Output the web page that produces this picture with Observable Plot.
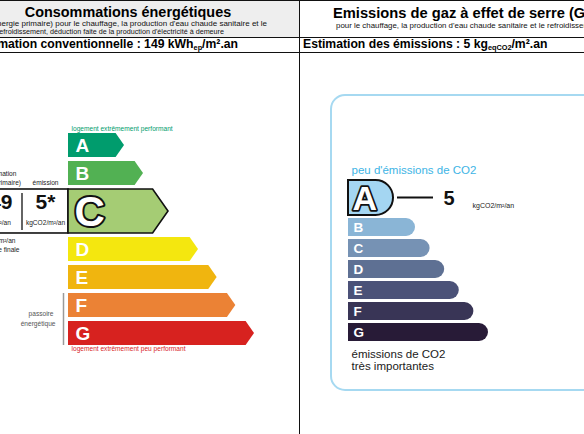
<!DOCTYPE html>
<html lang="fr"><head><meta charset="utf-8">
<script src="https://cdn.jsdelivr.net/npm/d3@7"></script>
<script src="https://cdn.jsdelivr.net/npm/@observablehq/plot@0.6"></script>
<style>
html,body{margin:0;padding:0;background:#fff;}
#page{position:relative;width:584px;height:434px;overflow:hidden;background:#fff;font-family:"Liberation Sans",Arial,Helvetica,sans-serif;}
#page .abs{position:absolute;white-space:nowrap;}
#page svg{position:absolute;top:0;}
sub{font-size:0.6em;line-height:0;vertical-align:-0.3em;}
</style></head><body><div id="page"></div><script>
// ---------- data ----------
const energyClasses = ["A","B","C","D","E","F","G"];
const energyValue = 149;          // kWh_ep/m².an
const energyEmission = 5;         // kgCO2/m²/an
const energyClass = "C";
const passoireClasses = ["F","G"];
const gesClasses = ["A","B","C","D","E","F","G"];
const gesValue = 5;               // kg_eqCO2/m².an
const gesClass = "A";

// ---------- styles ----------
const energyPalette = ["#009c6d","#52b153","#a5cc74","#f4e70f","#f0b50f","#eb8235","#d7221f"];
const gesPalette = ["#a4d6f2","#8ab5d6","#7692b4","#5e7093","#4b5278","#393556","#281b37"];
const FONT = "Liberation Sans, Arial, sans-serif";
// rank -> arrow length (graphic layout of the label, current class enlarged)
const energyLength = d3.scaleLinear().domain([0, 1, 2, 3, 4, 7]).range([0, 56, 75, 100, 130, 186]);
const gesLength = d3.scaleLinear().domain([0, 1, 2, 7]).range([0, 45, 67, 140]);

const page = document.getElementById("page");

// row layout in "row units" (current class is enlarged)
function rows(classes, current, ext, gap) {
  const ci = classes.indexOf(current);
  return classes.map((cls, i) => {
    const top = i + (i > ci ? ext : 0);
    return {cls, rank: i + 1, current: i === ci, top, bottom: top + (i === ci ? 1 + ext - gap : 1 - gap)};
  });
}
const mid = d => (d.top + d.bottom) / 2;

function div(css) {
  const d = document.createElement("div");
  d.className = "abs";
  d.style.cssText += css;
  page.appendChild(d);
  return d;
}
function label(html, x, baseline, size, opts = {}) {
  const {weight = "normal", anchor = "start", color = "#000"} = opts;
  const d = div(`font-size:${size}px;line-height:${size}px;font-weight:${weight};color:${color};top:${baseline - 0.8465 * size}px;`);
  d.innerHTML = html;
  if (anchor === "start") d.style.left = x + "px";
  else if (anchor === "end") d.style.right = (584 - x) + "px";
  else { d.style.left = x + "px"; d.style.transform = "translateX(-50%)"; }
  return d;
}

// header backgrounds
div("left:0;top:0;width:299px;height:37px;background:#eeeeee;");
div("left:300px;top:0;width:284px;height:37px;background:#ffffff;");

// ---------- energy chart ----------
const eRows = rows(energyClasses, energyClass, 0.714, 0.143);
const eCur = eRows.find(d => d.current);
const ePass = eRows.filter(d => passoireClasses.includes(d.cls));
const eLast = eRows[eRows.length - 1];

function arrowRender(index, scales, values) {
  const g = d3.create("svg:g");
  for (const i of index) {
    const d = eRows[i];
    const x1 = values.x1[i], x2 = values.x2[i];
    const y1 = Math.min(values.y1[i], values.y2[i]), y2 = Math.max(values.y1[i], values.y2[i]);
    const h = y2 - y1, t = h * 0.35;
    if (d.current) {
      g.append("rect").attr("x", x1 - 102).attr("y", y1).attr("width", 102).attr("height", h)
        .attr("fill", "white").attr("stroke", "#111").attr("stroke-width", 1.6);
      g.append("line").attr("x1", x1 - 46).attr("x2", x1 - 46).attr("y1", y1 + 4).attr("y2", y2 - 3)
        .attr("stroke", "#111").attr("stroke-width", 1.3);
    }
    g.append("path")
      .attr("d", `M${x1},${y1}H${x2 - t}L${x2},${(y1 + y2) / 2}L${x2 - t},${y2}H${x1}Z`)
      .attr("fill", values.fill[i])
      .attr("stroke", d.current ? "#111" : "none")
      .attr("stroke-width", 1.6);
  }
  return g.node();
}

const small = {fontSize: 6.6, fill: "#222", lineAnchor: "bottom"};
const ePlot = Plot.plot({
  width: 299, height: 434, margin: 0,
  style: {background: "none", left: "0px", fontFamily: FONT, overflow: "hidden"},
  x: {transform: energyLength, domain: [0, 186], range: [68, 254], axis: null},
  y: {domain: [0, 1], range: [133, 161], axis: null},
  color: {domain: energyClasses, range: energyPalette},
  marks: [
    Plot.rect(eRows, {x1: () => 0, x2: "rank", y1: "top", y2: "bottom", fill: "cls", render: arrowRender}),
    Plot.text(eRows.filter(d => !d.current), {x: () => 0, y: mid, text: "cls", dx: 7, textAnchor: "start", fill: "white", fontWeight: "bold", fontSize: 19}),
    Plot.text([eCur], {x: () => 0, y: mid, text: "cls", dx: 6, dy: 1, textAnchor: "start", fill: "white", stroke: "#111", strokeWidth: 4, fontWeight: "bold", fontSize: 42}),
    Plot.text(["logement extrêmement performant"], {x: () => 0, y: () => eRows[0].top, text: d => d, dx: 3, dy: -3, textAnchor: "start", lineAnchor: "bottom", fill: "#009c6d", fontSize: 6.6}),
    Plot.text(["logement extrêmement peu performant"], {x: () => 0, y: () => eLast.bottom, text: d => d, dx: 3, dy: 6, textAnchor: "start", lineAnchor: "bottom", fill: "#d7221f", fontSize: 6.6}),
    // value box labels
    Plot.text(["consommation"], {x: () => 0, y: () => eCur.top, text: d => d, dx: -73.5, dy: -13.5, ...small}),
    Plot.text(["(énergie primaire)"], {x: () => 0, y: () => eCur.top, text: d => d, dx: -73.5, dy: -4.5, ...small}),
    Plot.text(["émission"], {x: () => 0, y: () => eCur.top, text: d => d, dx: -23, dy: -4.5, ...small}),
    Plot.text([energyValue], {x: () => 0, y: () => eCur.top, text: d => String(d), dx: -73.5, dy: 19.5, lineAnchor: "bottom", fontSize: 21, fontWeight: "bold", fill: "#111"}),
    Plot.text([energyEmission], {x: () => 0, y: () => eCur.top, text: d => d + "*", dx: -23, dy: 19.5, lineAnchor: "bottom", fontSize: 21, fontWeight: "bold", fill: "#111"}),
    Plot.text(["kWh/m²/an"], {x: () => 0, y: () => eCur.top, text: d => d, dx: -73.5, dy: 35.5, ...small}),
    Plot.text(["kgCO2/m²/an"], {x: () => 0, y: () => eCur.top, text: d => d, dx: -23, dy: 35.5, ...small}),
    Plot.text(["kWh/m²/an"], {x: () => 0, y: () => eCur.bottom, text: d => d, dx: -53, dy: 9.5, textAnchor: "end", ...small}),
    Plot.text(["d'énergie finale"], {x: () => 0, y: () => eCur.bottom, text: d => d, dx: -49, dy: 18.5, textAnchor: "end", ...small}),
    // passoire
    Plot.ruleX([{y1: ePass[0].top, y2: ePass[ePass.length - 1].bottom}], {x: () => 0, y1: "y1", y2: "y2", dx: -5, stroke: "#9a9a9a", strokeWidth: 1.5}),
    Plot.text(["passoire"], {x: () => 0, y: () => (ePass[0].top + ePass[ePass.length - 1].bottom) / 2, text: d => d, dx: -15, dy: -3.5, textAnchor: "end", lineAnchor: "bottom", fontSize: 6.6, fill: "#555"}),
    Plot.text(["énergétique"], {x: () => 0, y: () => (ePass[0].top + ePass[ePass.length - 1].bottom) / 2, text: d => d, dx: -13, dy: 6.5, textAnchor: "end", lineAnchor: "bottom", fontSize: 6.6, fill: "#555"})
  ]
});
page.appendChild(ePlot);

// ---------- GES chart ----------
div("left:330px;top:94px;width:300px;height:297px;box-sizing:border-box;border:2.5px solid #a6d9f1;border-radius:15px;");

const gRows = rows(gesClasses, gesClass, 0.81, 0.143);
const gCur = gRows.find(d => d.current);
const gLast = gRows[gRows.length - 1];

function pillRender(index, scales, values) {
  const g = d3.create("svg:g");
  for (const i of index) {
    const d = gRows[i];
    const x1 = values.x1[i], x2 = values.x2[i];
    const y1 = Math.min(values.y1[i], values.y2[i]), y2 = Math.max(values.y1[i], values.y2[i]);
    const r = (y2 - y1) / 2;
    g.append("path")
      .attr("d", `M${x1},${y1}H${x2 - r}A${r},${r} 0 0 1 ${x2 - r},${y2}H${x1}Z`)
      .attr("fill", values.fill[i])
      .attr("stroke", d.current ? "#111" : "none")
      .attr("stroke-width", 2);
    if (d.current) {
      g.append("line").attr("x1", x2 + 4).attr("x2", x2 + 40).attr("y1", (y1 + y2) / 2).attr("y2", (y1 + y2) / 2)
        .attr("stroke", "#111").attr("stroke-width", 1.8);
    }
  }
  return g.node();
}

const gPlot = Plot.plot({
  width: 284, height: 434, margin: 0,
  style: {background: "none", left: "300px", fontFamily: FONT, overflow: "hidden"},
  x: {transform: gesLength, domain: [0, 140], range: [48, 188], axis: null},
  y: {domain: [0, 1], range: [180, 201], axis: null},
  color: {domain: gesClasses, range: gesPalette},
  marks: [
    Plot.rect(gRows, {x1: () => 0, x2: "rank", y1: "top", y2: "bottom", fill: "cls", render: pillRender}),
    Plot.text(gRows.filter(d => !d.current), {x: () => 0, y: mid, text: "cls", dx: 5, textAnchor: "start", fill: "white", fontWeight: "bold", fontSize: 13.5}),
    Plot.text([gCur], {x: () => 0, y: mid, text: "cls", dx: 4, dy: 1, textAnchor: "start", fill: "white", stroke: "#111", strokeWidth: 3.5, fontWeight: "bold", fontSize: 34}),
    Plot.text([gesValue], {x: () => gCur.rank, y: () => mid(gCur), text: d => String(d), dx: 50, dy: 7, textAnchor: "start", lineAnchor: "bottom", fontWeight: "bold", fontSize: 20, fill: "#111"}),
    Plot.text(["kgCO2/m²/an"], {x: () => gCur.rank, y: () => mid(gCur), text: d => d, dx: 79, dy: 10, textAnchor: "start", lineAnchor: "bottom", fontSize: 7, fill: "#222"}),
    Plot.text(["peu d'émissions de CO2"], {x: () => 0, y: () => gRows[0].top, text: d => d, dx: 3, dy: -7, textAnchor: "start", lineAnchor: "bottom", fontSize: 11.5, fill: "#3db4e5"}),
    Plot.text(["émissions de CO2"], {x: () => 0, y: () => gLast.bottom, text: d => d, dx: 3, dy: 16, textAnchor: "start", lineAnchor: "bottom", fontSize: 11.5, fill: "#1a1a1a"}),
    Plot.text(["très importantes"], {x: () => 0, y: () => gLast.bottom, text: d => d, dx: 3, dy: 28, textAnchor: "start", lineAnchor: "bottom", fontSize: 11.5, fill: "#1a1a1a"})
  ]
});
page.appendChild(gPlot);

// ---------- frame lines ----------
div("left:0;top:0;width:584px;height:1px;background:#111;");
div("left:0;top:37px;width:584px;height:1px;background:#111;");
div("left:0;top:52px;width:584px;height:1px;background:#111;");
div("left:299px;top:0;width:1.3px;height:434px;background:#111;");

// ---------- header texts ----------
label("Consommations énergétiques", 128, 17, 14.4, {weight: "bold", anchor: "middle"});
label("(énergie primaire) pour le chauffage, la production d'eau chaude sanitaire et le", 267, 26.5, 8, {anchor: "end", color: "#111"});
label("refroidissement, déduction faite de la production d'électricité à demeure", 224, 34.5, 7.2, {anchor: "end", color: "#111"});
label(`Estimation conventionnelle : ${energyValue} kWh<sub>ep</sub>/m².an`, 238, 48, 12.2, {weight: "bold", anchor: "end"});
label("Emissions de gaz à effet de serre (GES)", 333, 18, 14.7, {weight: "bold"});
label("pour le chauffage, la production d'eau chaude sanitaire et le refroidissement", 336, 28.5, 7.9, {color: "#111"});
label(`Estimation des émissions : ${gesValue} kg<sub>eqCO2</sub>/m².an`, 303, 48, 12.2, {weight: "bold"});
</script></body></html>
